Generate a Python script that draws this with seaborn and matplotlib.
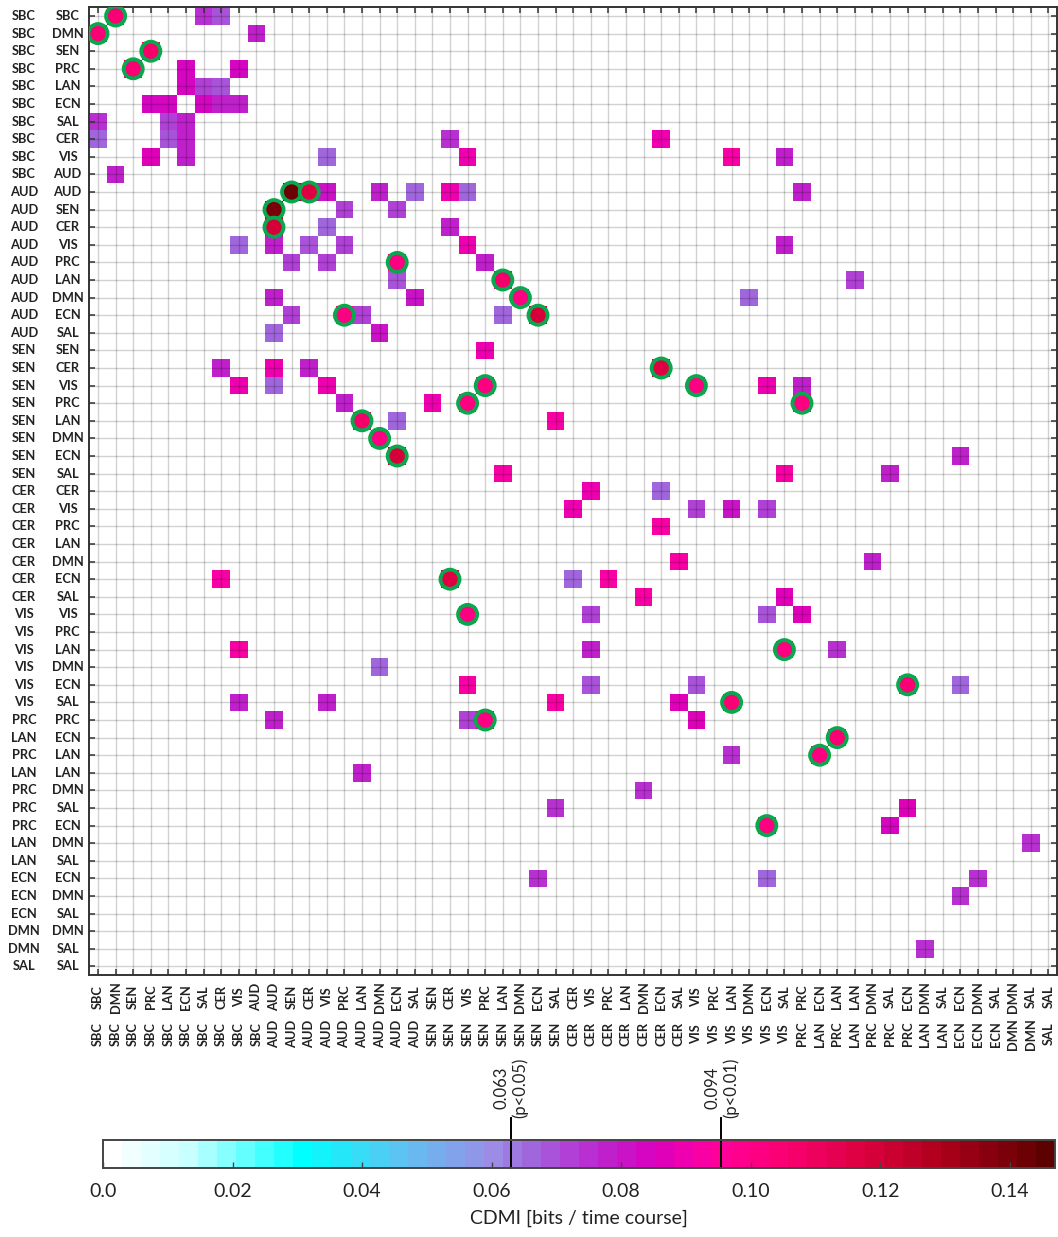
import numpy as np
import matplotlib
matplotlib.use("Agg")
import matplotlib.pyplot as plt
import seaborn as sns
from matplotlib.colors import LinearSegmentedColormap

# ---------------- data ----------------
pair_first = (["SBC"] * 10 + ["AUD"] * 9 + ["SEN"] * 8 + ["CER"] * 7 + ["VIS"] * 6 +
              ["PRC", "LAN", "PRC", "LAN", "PRC", "PRC", "PRC", "LAN", "LAN",
               "ECN", "ECN", "ECN", "DMN", "DMN", "SAL"])
pair_second = ["SBC", "DMN", "SEN", "PRC", "LAN", "ECN", "SAL", "CER", "VIS", "AUD",
               "AUD", "SEN", "CER", "VIS", "PRC", "LAN", "DMN", "ECN", "SAL",
               "SEN", "CER", "VIS", "PRC", "LAN", "DMN", "ECN", "SAL",
               "CER", "VIS", "PRC", "LAN", "DMN", "ECN", "SAL",
               "VIS", "PRC", "LAN", "DMN", "ECN", "SAL",
               "PRC", "ECN", "LAN", "LAN", "DMN", "SAL", "ECN", "DMN", "SAL",
               "ECN", "DMN", "SAL", "DMN", "SAL", "SAL"]

cell_row = [0, 0, 0, 1, 1, 2, 3, 3, 3, 4, 4, 4, 5, 5, 5, 5, 5, 6, 6, 6,
            7, 7, 7, 7, 7, 8, 8, 8, 8, 8, 8, 9,
            10, 10, 10, 10, 10, 10, 10, 10, 11, 11, 11, 12, 12, 12,
            13, 13, 13, 13, 13, 13, 14, 14, 14, 14, 15, 15, 15, 16, 16, 16, 16,
            17, 17, 17, 17, 17, 18, 18, 19, 20, 20, 20, 20,
            21, 21, 21, 21, 21, 21, 21, 22, 22, 22, 22, 23, 23, 23, 24, 25, 25,
            26, 26, 26, 27, 27, 28, 28, 28, 28, 29, 31, 31, 32, 32, 32, 32,
            33, 33, 34, 34, 34, 34, 36, 36, 36, 36, 37, 38, 38, 38, 38, 38,
            39, 39, 39, 39, 39, 40, 40, 40, 40, 41, 42, 42, 43, 44, 45, 45,
            46, 46, 47, 49, 49, 49, 50, 53]
cell_col = [1, 6, 7, 0, 9, 3, 2, 5, 8, 5, 6, 7, 3, 4, 6, 7, 8, 0, 4, 5,
            0, 4, 5, 20, 32, 3, 5, 13, 21, 36, 39, 1,
            11, 12, 13, 16, 18, 20, 21, 40, 10, 14, 17, 10, 13, 20,
            8, 10, 12, 14, 21, 39, 11, 13, 17, 22, 17, 23, 43, 10, 18, 24, 37,
            11, 14, 15, 23, 25, 10, 16, 22, 7, 10, 12, 32,
            8, 10, 13, 22, 34, 38, 40, 14, 19, 21, 40, 15, 17, 26, 16, 17, 49,
            23, 39, 45, 28, 32, 27, 34, 36, 38, 32, 33, 44, 7, 20, 27, 29,
            31, 39, 21, 28, 38, 40, 8, 28, 39, 42, 16, 21, 28, 34, 46, 49,
            8, 13, 26, 33, 36, 10, 21, 22, 34, 42, 36, 41, 15, 31, 26, 46,
            38, 45, 53, 25, 38, 50, 49, 47]
cell_val = [0.105, 0.076, 0.069, 0.105, 0.077, 0.106, 0.105, 0.085, 0.085,
            0.084, 0.071, 0.070, 0.085, 0.085, 0.083, 0.078, 0.078, 0.076, 0.071, 0.079,
            0.066, 0.070, 0.077, 0.076, 0.091, 0.086, 0.078, 0.066, 0.090, 0.092, 0.077, 0.077,
            0.142, 0.116, 0.082, 0.077, 0.066, 0.089, 0.067, 0.077, 0.140, 0.071, 0.071,
            0.118, 0.067, 0.078,
            0.067, 0.079, 0.068, 0.071, 0.090, 0.077, 0.071, 0.071, 0.101, 0.078,
            0.068, 0.106, 0.073, 0.078, 0.082, 0.102, 0.066,
            0.071, 0.101, 0.072, 0.066, 0.120, 0.066, 0.082, 0.089, 0.078, 0.090, 0.078, 0.117,
            0.090, 0.067, 0.090, 0.102, 0.101, 0.090, 0.077, 0.078, 0.089, 0.101, 0.101,
            0.106, 0.066, 0.092, 0.102, 0.120, 0.077,
            0.092, 0.092, 0.077, 0.090, 0.067, 0.091, 0.073, 0.081, 0.073, 0.092,
            0.092, 0.077, 0.092, 0.117, 0.067, 0.092,
            0.092, 0.088, 0.101, 0.073, 0.068, 0.086, 0.092, 0.078, 0.101, 0.074, 0.066,
            0.092, 0.070, 0.068, 0.104, 0.066,
            0.077, 0.077, 0.092, 0.088, 0.104, 0.077, 0.072, 0.101, 0.088, 0.104,
            0.074, 0.101, 0.077, 0.074, 0.074, 0.088,
            0.101, 0.085, 0.074, 0.074, 0.067, 0.074, 0.074, 0.074]

sig_row = [0, 1, 2, 3, 10, 10, 11, 12, 14, 15, 16, 17, 17, 20, 21, 21, 22, 22,
           23, 24, 25, 32, 34, 36, 38, 39, 40, 41, 42, 46]
sig_col = [1, 0, 3, 2, 11, 12, 10, 10, 17, 23, 24, 14, 25, 32, 22, 34, 21, 40,
           15, 16, 17, 20, 21, 39, 46, 36, 22, 42, 41, 38]

cbar_ticks = [0.0, 0.02, 0.04, 0.06, 0.08, 0.10, 0.12, 0.14]
cbar_ticklabels = ["0.0", "0.02", "0.04", "0.06", "0.08", "0.10", "0.12", "0.14"]
thresholds = [0.063, 0.0955]
threshold_labels = ["0.063\n(p<0.05)", "0.094\n(p<0.01)"]
VMAX = 0.147

# ---------------- colormap ----------------
anchors = [(0.000, "#ffffff"), (0.012, "#c8ffff"), (0.030, "#00ffff"),
           (0.045, "#5cc4f2"), (0.060, "#9c8ce6"), (0.066, "#a066dc"),
           (0.072, "#b040d6"), (0.078, "#c020cc"), (0.085, "#d800c0"),
           (0.090, "#ee00b0"), (0.095, "#ff009c"), (0.100, "#ff0088"),
           (0.108, "#f5006a"), (0.118, "#dc0040"), (0.130, "#b0001c"),
           (VMAX, "#5c0000")]
cmap = LinearSegmentedColormap.from_list(
    "cdmi", [(v / VMAX, c) for v, c in anchors], N=50)

M = np.full((55, 55), np.nan)
for r, c, v in zip(cell_row, cell_col, cell_val):
    M[r, c] = v

# ---------------- figure ----------------
W, H = 1058, 1237
fig = plt.figure(figsize=(W / 100, H / 100), dpi=100)
ax = fig.add_axes([89.2 / W, 1 - 975.2 / H, 968 / W, 968 / H])
cax = fig.add_axes([103 / W, 1 - 1168 / H, 952 / W, 28 / H])

sns.heatmap(M, ax=ax, cmap=cmap, vmin=0, vmax=VMAX, cbar=True, cbar_ax=cax,
            cbar_kws={"orientation": "horizontal", "ticks": cbar_ticks},
            xticklabels=pair_second, yticklabels=pair_second)

ax.grid(True, color="black", alpha=0.18, linewidth=1.0)
ax.set_axisbelow(False)
for s in ax.spines.values():
    s.set_visible(True)
    s.set_linewidth(1.4)
    s.set_color("#333333")
ax.tick_params(axis="both", which="major", direction="in", length=4, width=1.1,
               color="#333333", top=True, right=True, bottom=True, left=True,
               labeltop=False, labelright=False)
lab_font = dict(fontfamily="Lato", fontweight="bold", fontsize=9.3, color="#222222")
ax.set_yticklabels(pair_second, rotation=0, ha="center", va="center", **lab_font)
ax.set_xticklabels(pair_second, rotation=90, ha="center", va="center", **lab_font)
ax.tick_params(axis="y", pad=15.5)
ax.tick_params(axis="x", pad=15.5)

for i, name in enumerate(pair_first):
    ax.text(-(89.2 - 24) / 968, i + 0.5, name, transform=ax.get_yaxis_transform(),
            ha="center", va="center", **lab_font)
    ax.text(i + 0.5, -(1034 - 975.2) / 968, name, transform=ax.get_xaxis_transform(),
            rotation=90, ha="center", va="center", **lab_font)

# significant cells: green rings
sig_val = [M[r, c] for r, c in zip(sig_row, sig_col)]
sns.scatterplot(x=np.array(sig_col) + 0.5, y=np.array(sig_row) + 0.5, hue=sig_val,
                palette=cmap, hue_norm=(0, VMAX), legend=False, s=190,
                edgecolor="#0aa84c", linewidth=2.7, ax=ax, zorder=4)
ax.set_xlim(0, 55)
ax.set_ylim(55, 0)
ax.set_xlabel("")
ax.set_ylabel("")

# ---------------- colorbar ----------------
cb = ax.collections[0].colorbar
cb.outline.set_visible(True)
cb.outline.set_linewidth(1.4)
cb.outline.set_edgecolor("#444444")
cb.set_ticks(cbar_ticks)
cb.set_ticklabels(cbar_ticklabels)
cax.tick_params(direction="in", length=4, width=1, color="#444444", pad=11,
                labelsize=14, labelcolor="#222222")
for t in cax.get_xticklabels():
    t.set_fontfamily("Lato")
cb.set_label("CDMI [bits / time course]", fontsize=14, fontfamily="Lato",
             color="#222222", labelpad=7)

for thr, txt in zip(thresholds, threshold_labels):
    cax.plot([thr, thr], [0, 1.8], transform=cax.get_xaxis_transform(),
             color="black", linewidth=1.4, clip_on=False)
    cax.text(thr, 1.8, txt, transform=cax.get_xaxis_transform(), rotation=90,
             ha="center", va="bottom", multialignment="center", fontsize=12,
             fontfamily="Lato", color="#222222", linespacing=1.15)

fig.savefig("out.png", dpi=100)
